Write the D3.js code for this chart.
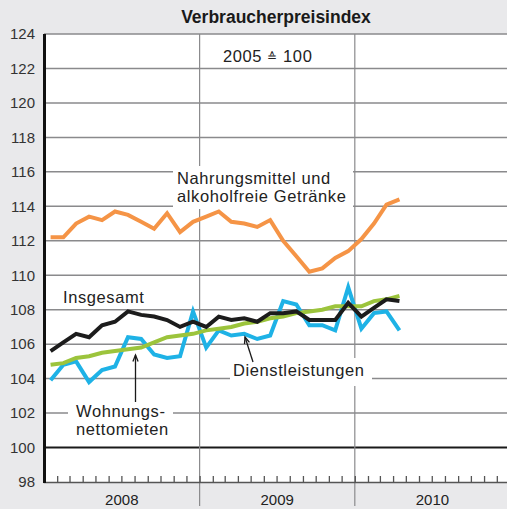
<!DOCTYPE html>
<html>
<head>
<meta charset="utf-8">
<script src="https://cdn.jsdelivr.net/npm/d3@7"></script>
<style>
  html, body { margin: 0; padding: 0; background: #e9e9eb; }
  svg { display: block; font-family: "Liberation Sans", Arial, Helvetica, sans-serif; }
</style>
</head>
<body>
<svg id="chart" width="507" height="509"></svg>
<script>
// Verbraucherpreisindex, 2005 = 100, monthly values Jan 2008 – Apr 2010
const months = d3.timeMonth.range(new Date(2008, 0, 1), new Date(2010, 4, 1));

const nahrungsmittel = [112.2, 112.2, 113.0, 113.4, 113.2, 113.7, 113.5, 113.1, 112.7, 113.6, 112.5, 113.1,
                        113.4, 113.7, 113.1, 113.0, 112.8, 113.2, 112.0, 111.1, 110.2, 110.4, 111.0, 111.4,
                        112.1, 113.0, 114.1, 114.4];
const insgesamt = [105.6, 106.1, 106.6, 106.4, 107.1, 107.3, 107.9, 107.7, 107.6, 107.4, 107.0, 107.3,
                   107.0, 107.6, 107.4, 107.5, 107.3, 107.8, 107.8, 107.9, 107.4, 107.4, 107.4, 108.4,
                   107.6, 108.1, 108.6, 108.5];
const wohnungsmieten = [104.8, 104.9, 105.2, 105.3, 105.5, 105.6, 105.7, 105.8, 106.1, 106.4, 106.5, 106.6,
                        106.8, 106.9, 107.0, 107.2, 107.3, 107.5, 107.6, 107.8, 107.9, 108.0, 108.2, 108.2,
                        108.2, 108.5, 108.6, 108.8];
const dienstleistungen = [103.9, 104.8, 105.0, 103.8, 104.5, 104.7, 106.4, 106.3, 105.4, 105.2, 105.3, 107.9,
                          105.8, 106.8, 106.5, 106.6, 106.3, 106.5, 108.5, 108.3, 107.1, 107.1, 106.8, 109.3,
                          106.9, 107.8, 107.9, 106.8];

const yTicks = [98, 100, 102, 104, 106, 108, 110, 112, 114, 116, 118, 120, 122, 124];
const years = [2008, 2009, 2010];

const svg = d3.select("#chart");
const W = 507, H = 509;
const plotLeft = 44, plotTop = 34, plotBottom = 482;

const x = d3.scaleTime()
  .domain([new Date(2008, 0, 1), new Date(2011, 0, 1)])
  .range([plotLeft, 510]);
const y = d3.scaleLinear().domain([98, 124]).range([plotBottom, plotTop]);

// month midpoint for plotting
const xMid = d => (x(d) + x(d3.timeMonth.offset(d, 1))) / 2;

// background
svg.append("rect").attr("width", W).attr("height", H).attr("fill", "#e9e9eb");
svg.append("rect").attr("x", plotLeft).attr("y", plotTop).attr("width", W - plotLeft).attr("height", plotBottom - plotTop)
  .attr("fill", "#ffffff");

// title
svg.append("text").attr("x", 276).attr("y", 23).attr("text-anchor", "middle")
  .attr("font-size", 17.5).attr("font-weight", "bold").attr("fill", "#1a1a1a")
  .text("Verbraucherpreisindex");

// horizontal gridlines
svg.append("g").selectAll("line")
  .data(yTicks.filter(v => v > 98))
  .join("line")
  .attr("x1", plotLeft).attr("x2", W)
  .attr("y1", d => y(d)).attr("y2", d => y(d))
  .attr("stroke", d => d === 100 ? "#1a1a1a" : "#8a8a8c")
  .attr("stroke-width", d => d === 100 ? 2 : 1.5);

// year separators
svg.append("g").selectAll("line")
  .data(years.slice(1))
  .join("line")
  .attr("x1", d => x(new Date(d, 0, 1))).attr("x2", d => x(new Date(d, 0, 1)))
  .attr("y1", plotTop).attr("y2", 506)
  .attr("stroke", "#8a8a8c").attr("stroke-width", 1.2);

// month ticks along the bottom
const xAxis = d3.axisBottom(x)
  .ticks(d3.timeMonth.every(1))
  .tickSize(-6)
  .tickFormat("");
const gx = svg.append("g").attr("transform", `translate(0,${plotBottom})`).call(xAxis);
gx.select(".domain").attr("stroke", "#555").attr("stroke-width", 1.5);
gx.selectAll(".tick line").attr("stroke", "#555").attr("stroke-width", 1.3);

// year labels
svg.append("g").selectAll("text")
  .data(years)
  .join("text")
  .attr("x", d => (x(new Date(d, 0, 1)) + x(new Date(d + 1, 0, 1))) / 2)
  .attr("y", 505)
  .attr("text-anchor", "middle")
  .attr("font-size", 15).attr("fill", "#222")
  .text(d => d);

// y axis
const yAxis = d3.axisLeft(y).tickValues(yTicks).tickSize(0).tickPadding(9);
const gy = svg.append("g").attr("transform", `translate(${plotLeft},0)`).call(yAxis);
gy.select(".domain").remove();
gy.selectAll(".tick text").attr("font-size", 15).attr("fill", "#333")
  .attr("font-family", "'Liberation Sans', Arial, sans-serif");
svg.append("line").attr("x1", plotLeft + 0.5).attr("x2", plotLeft + 0.5)
  .attr("y1", plotTop).attr("y2", plotBottom + 1)
  .attr("stroke", "#111").attr("stroke-width", 3);

// white boxes behind the series labels
const boxes = [
  [173, 166, 180, 43],
  [68, 402, 105, 38],
  [230, 358, 142, 28]
];
svg.append("g").selectAll("rect").data(boxes).join("rect")
  .attr("x", d => d[0]).attr("y", d => d[1]).attr("width", d => d[2]).attr("height", d => d[3])
  .attr("fill", "#ffffff");

// series lines
const line = d3.line().x((d, i) => xMid(months[i])).y(d => y(d)).curve(d3.curveLinear);
const series = [
  { values: nahrungsmittel, color: "#f59446" },
  { values: dienstleistungen, color: "#1eb2e6" },
  { values: wohnungsmieten, color: "#9cc43c" },
  { values: insgesamt, color: "#1c1c1c" }
];
svg.append("g").selectAll("path").data(series).join("path")
  .attr("d", d => line(d.values))
  .attr("fill", "none")
  .attr("stroke", d => d.color)
  .attr("stroke-width", 4)
  .attr("stroke-linejoin", "miter")
  .attr("stroke-linecap", "butt");

// labels
const labels = svg.append("g").attr("font-size", 16.5).attr("letter-spacing", 0.6).attr("fill", "#222");
const base = labels.append("text").attr("x", 223).attr("y", 62);
base.append("tspan").text("2005 ");
base.append("tspan").attr("font-size", 12).attr("dy", -1).text("\u2259");
base.append("tspan").attr("dy", 1).text(" 100");
labels.append("text").attr("x", 177).attr("y", 183.5).text("Nahrungsmittel und");
labels.append("text").attr("x", 177).attr("y", 202).text("alkoholfreie Getränke");
labels.append("text").attr("x", 63).attr("y", 303).text("Insgesamt");
labels.append("text").attr("x", 233).attr("y", 376).text("Dienstleistungen");
labels.append("text").attr("x", 76).attr("y", 416.5).text("Wohnungs-");
labels.append("text").attr("x", 76).attr("y", 435).text("nettomieten");

// arrows from labels to their lines
function arrow(x1, y1, x2, y2) {
  const g = svg.append("g").attr("stroke", "#1a1a1a").attr("stroke-width", 1.3).attr("fill", "none");
  g.append("line").attr("x1", x1).attr("y1", y1).attr("x2", x2).attr("y2", y2);
  const a = Math.atan2(y2 - y1, x2 - x1);
  const len = 7, spread = 0.38;
  const p1 = [x2 - len * Math.cos(a - spread), y2 - len * Math.sin(a - spread)];
  const p2 = [x2 - len * Math.cos(a + spread), y2 - len * Math.sin(a + spread)];
  g.append("path").attr("d", `M${p1[0]},${p1[1]}L${x2},${y2}L${p2[0]},${p2[1]}`);
}
arrow(135.5, 402, 135.5, 355);
arrow(253, 362, 245, 337);
</script>
</body>
</html>
